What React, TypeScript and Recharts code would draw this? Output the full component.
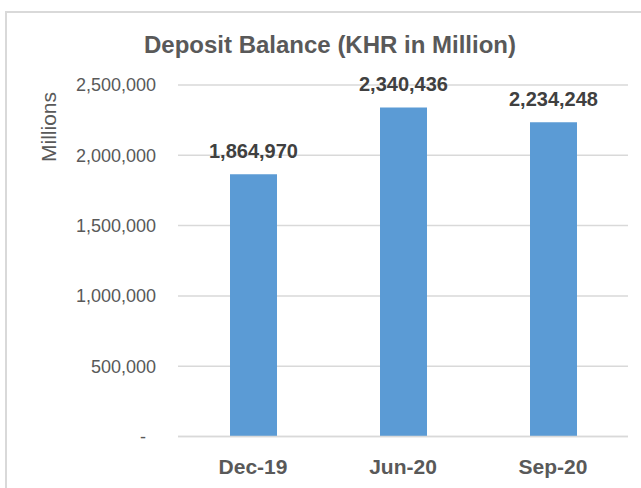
import React from 'react';
import { BarChart, Bar, XAxis, YAxis, CartesianGrid, LabelList, Customized } from 'recharts';

const categories = ['Dec-19', 'Jun-20', 'Sep-20'];
const deposits = [1864970, 2340436, 2234248];
const yTicks = [0, 500000, 1000000, 1500000, 2000000, 2500000];
const title = 'Deposit Balance (KHR in Million)';
const yAxisTitle = 'Millions';

const data = categories.map((c, i) => ({ name: c, value: deposits[i] }));

const FONT = '"Liberation Sans", Arial, sans-serif';
const fmt = (v: number) => (v === 0 ? '-' : v.toLocaleString('en-US'));

const YTick = (props: any) => {
  const { x, y, payload } = props;
  const isZero = payload.value === 0;
  return (
    <text x={isZero ? x - 10 : x} y={y} dy="0.355em" textAnchor="end" fill="#595959" fontSize={18} fontFamily={FONT}>
      {fmt(payload.value)}
    </text>
  );
};

const Decor = () => (
  <g>
    <text x={330} y={53} textAnchor="middle" fill="#595959" fontSize={24} fontWeight="bold" fontFamily={FONT}>
      {title}
    </text>
    <text
      x={49}
      y={127}
      transform="rotate(-90 49 127)"
      textAnchor="middle"
      dy="0.355em"
      fill="#595959"
      fontSize={21}
      fontFamily={FONT}
    >
      {yAxisTitle}
    </text>
  </g>
);

export default function App() {
  return (
    <div style={{ position: 'absolute', left: 0, top: 0, width: 641, height: 488, background: '#fff', overflow: 'hidden' }}>
      <div
        style={{
          position: 'absolute',
          left: 5,
          top: 11,
          width: 700,
          height: 600,
          borderLeft: '2px solid #D9D9D9',
          borderTop: '2px solid #D9D9D9',
          boxSizing: 'border-box',
        }}
      />
      <div style={{ position: 'absolute', left: 0, top: 0 }}>
        <BarChart width={641} height={488} data={data} margin={{ top: 85, right: 13, bottom: 0, left: 0 }}>
          <CartesianGrid vertical={false} stroke="#D9D9D9" strokeWidth={1.5} />
          <XAxis
            dataKey="name"
            height={51.5}
            tickLine={false}
            axisLine={{ stroke: '#D9D9D9', strokeWidth: 1.5 }}
            tickMargin={17}
            tick={{ fill: '#595959', fontSize: 21, fontWeight: 'bold', fontFamily: FONT }}
          />
          <YAxis
            width={178}
            domain={[0, 2500000]}
            ticks={yTicks}
            tickLine={false}
            axisLine={false}
            tickMargin={16}
            tick={<YTick />}
          />
          <Bar dataKey="value" fill="#5B9BD5" barSize={47} isAnimationActive={false}>
            <LabelList
              dataKey="value"
              position="top"
              offset={16}
              formatter={(v: any) => Number(v).toLocaleString('en-US')}
              fill="#404040"
              fontSize={20}
              fontWeight="bold"
              fontFamily={FONT}
            />
          </Bar>
          <Customized component={Decor} />
        </BarChart>
      </div>
    </div>
  );
}
